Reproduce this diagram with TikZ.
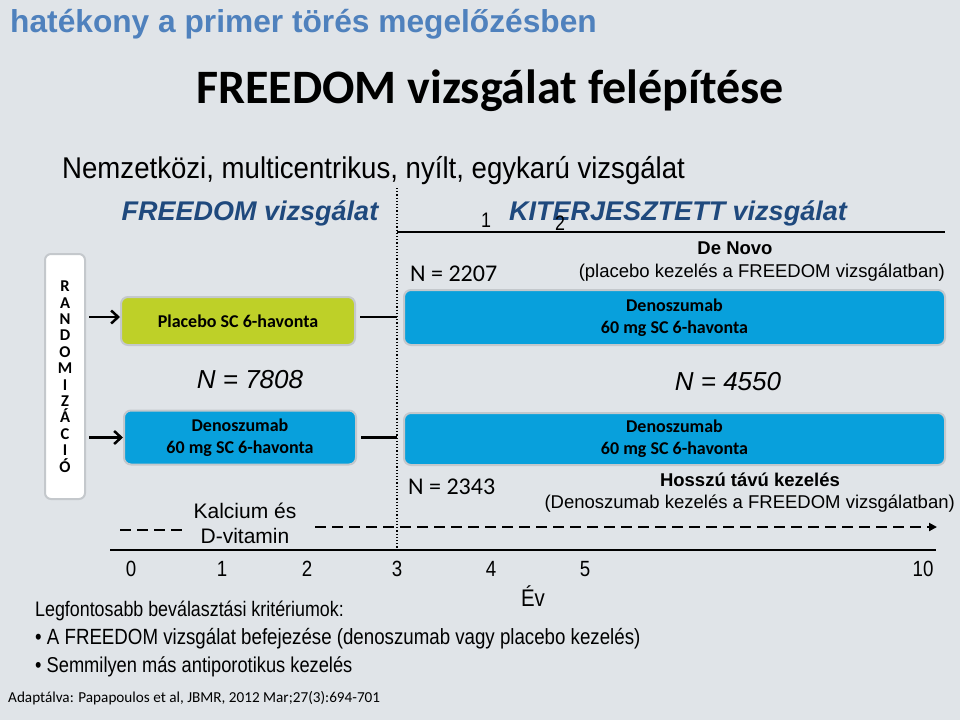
\documentclass[tikz,border=0pt]{standalone}
\usepackage{fontspec}
\setmainfont{Liberation Sans}
\newfontfamily\calibri{Carlito}
\newfontfamily\narrow[FakeStretch=0.85]{Liberation Sans}
\newfontfamily\subnarrow[FakeStretch=0.92]{Liberation Sans}
\usetikzlibrary{positioning}
\usetikzlibrary{arrows.meta}

\definecolor{bgcolor}{RGB}{224,228,232}
\definecolor{headblue}{RGB}{79,129,189}
\definecolor{darkblue}{RGB}{31,73,125}
\definecolor{boxblue}{RGB}{8,160,220}
\definecolor{boxgreen}{RGB}{190,208,40}
\definecolor{boxedge}{RGB}{196,200,204}

\begin{document}
\begin{tikzpicture}[x=1pt, y=-1pt,
        arm/.style={draw=boxedge, line width=2pt, rounded corners=7pt, align=center, inner sep=0pt, font=\calibri\bfseries\fontsize{18}{22}\selectfont},
        lbl/.style={inner sep=0pt, anchor=base, align=center},
        tick/.style={lbl, font=\narrow\fontsize{22}{26}\selectfont},
        randarrow/.style={line width=2.5pt, -{Straight Barb[length=7pt, width=13pt]}},
        dashline/.style={line width=2pt, dash pattern=on 11pt off 6pt}]
        \fill[bgcolor] (0,0) rectangle (960,720);
        \useasboundingbox (0,0) rectangle (960,720);

        \node[lbl, anchor=base west, text=headblue, font=\bfseries\fontsize{31.7}{36}\selectfont] (head) at (10,32) {hatékony a primer törés megelőzésben};
        \node[lbl, font=\calibri\bfseries\fontsize{48}{56}\selectfont] (title) at (490,103) {FREEDOM vizsgálat felépítése};
        \node[lbl, anchor=base west, font=\subnarrow\fontsize{30}{34}\selectfont] (sub) at (62,178) {Nemzetközi, multicentrikus, nyílt, egykarú vizsgálat};

        \node[lbl, text=darkblue, font=\bfseries\itshape\fontsize{27}{32}\selectfont] (freedom) at (250,220) {FREEDOM vizsgálat};
        \node[lbl, font=\narrow\fontsize{21}{24}\selectfont] (one) at (486,227) {1};
        \node[lbl, text=darkblue, font=\bfseries\itshape\fontsize{27}{32}\selectfont] (ext) at (678,220) {KITERJESZTETT vizsgálat};
        \node[lbl, font=\narrow\fontsize{21}{24}\selectfont] (two) at (560,230) {2};

        % time line frame
        \coordinate (vtop) at (397,188);
        \coordinate (vbot) at (397,550);
        \draw[line width=1.2pt, dotted] (vtop) -- (vbot);
        \coordinate (topL) at (397,232);
        \coordinate (topR) at (945,232);
        \draw[line width=2.5pt] (topL) -- (topR);
        \coordinate (axL) at (110,550);
        \coordinate (axR) at (936,550);
        \draw[line width=2.5pt] (axL) -- (axR);

        % randomisation
        \node[arm, fill=white, rounded corners=6pt, minimum width=40, minimum height=245, font=\calibri\bfseries\fontsize{16.5}{16.4}\selectfont] (rand) at (65,376.5) {R\\A\\N\\D\\O\\M\\I\\Z\\Á\\C\\I\\Ó};

        \node[arm, fill=boxgreen, minimum width=234, minimum height=48] (placebo) at (238,321) {Placebo SC 6-havonta};
        \node[arm, fill=boxblue, minimum width=232, minimum height=54] (denoL) at (240,437.5) {Denoszumab\\60 mg SC 6-havonta};
        \node[lbl, font=\itshape\fontsize{26}{30}\selectfont] (nall) at (250,388) {N = 7808};

        \draw[randarrow] (rand.east |- 0,317) ++(3,0) -- (placebo.west |- 0,317);
        \draw[randarrow] (rand.east |- denoL.west) ++(3,0) -- (denoL.west);
        \draw[line width=2.5pt, shorten <=4pt] (placebo.east |- 0,317) -- (vtop |- 0,317);
        \draw[line width=2.5pt, shorten <=4pt] (denoL.east) -- (vtop |- denoL.east);

        \node[lbl, font=\fontsize{21}{25}\selectfont] (calc) at (245,518) {Kalcium és};
        \node[lbl, font=\fontsize{21}{25}\selectfont] (vitd) at (245,543) {D-vitamin};

        % extension arms
        \node[lbl, anchor=base west, font=\calibri\fontsize{24}{28}\selectfont] (nplac) at (410,281) {N = 2207};
        \node[lbl, font=\bfseries\fontsize{18.5}{22}\selectfont] (denovo) at (735,254) {De Novo};
        \node[lbl, anchor=base east, font=\fontsize{18.5}{22}\selectfont] (denovotxt) at (945,277) {(placebo kezelés a FREEDOM vizsgálatban)};
        \node[arm, fill=boxblue, minimum width=541, minimum height=55] (denoR1) at (674.5,317.5) {Denoszumab\\60 mg SC 6-havonta};
        \node[lbl, font=\itshape\fontsize{26}{30}\selectfont] (next) at (728,390) {N = 4550};
        \node[arm, fill=boxblue, minimum width=541, minimum height=52] (denoR2) at (674.5,439) {Denoszumab\\60 mg SC 6-havonta};
        \node[lbl, anchor=base west, font=\calibri\fontsize{24}{28}\selectfont] (ndeno) at (408,494) {N = 2343};
        \node[lbl, font=\bfseries\fontsize{18.5}{22}\selectfont] (long) at (750,486) {Hosszú távú kezelés};
        \node[lbl, anchor=base east, font=\fontsize{18.5}{22}\selectfont] (longtxt) at (955,508) {(Denoszumab kezelés a FREEDOM vizsgálatban)};

        % calcium and vitamin D
        \coordinate (dashA) at (120,530);
        \coordinate (dashB) at (182,530);
        \coordinate (dashC) at (315,527);
        \coordinate (dashD) at (937,527);
        \draw[dashline] (dashA) -- (dashB);
        \draw[dashline, -{Triangle[length=8pt, width=8pt]}] (dashC) -- (dashD);

        % years
        \foreach \x/\t in {131/0, 222/1, 307/2, 397/3, 491/4, 585/5, 923/10}
            \node[tick] (year\t) at (\x,576) {\t};
        \node[lbl, font=\narrow\fontsize{24}{28}\selectfont] (ev) at (533,606) {Év};

        % criteria
        \node[lbl, anchor=base west, font=\narrow\fontsize{21}{28}\selectfont] (crit) at (35,616) {Legfontosabb beválasztási kritériumok:};
        \node[lbl, anchor=base west, font=\narrow\fontsize{22}{28}\selectfont] (crit1) at (35,644) {\textbullet\ A FREEDOM vizsgálat befejezése (denoszumab vagy placebo kezelés)};
        \node[lbl, anchor=base west, font=\narrow\fontsize{21.5}{28}\selectfont] (crit2) at (35,672) {\textbullet\ Semmilyen más antiporotikus kezelés};
        \node[lbl, anchor=base west, font=\calibri\fontsize{15.2}{17}\selectfont] (src) at (8,702) {Adaptálva: Papapoulos et al, JBMR, 2012 Mar;27(3):694-701};
    \end{tikzpicture}
\end{document}
